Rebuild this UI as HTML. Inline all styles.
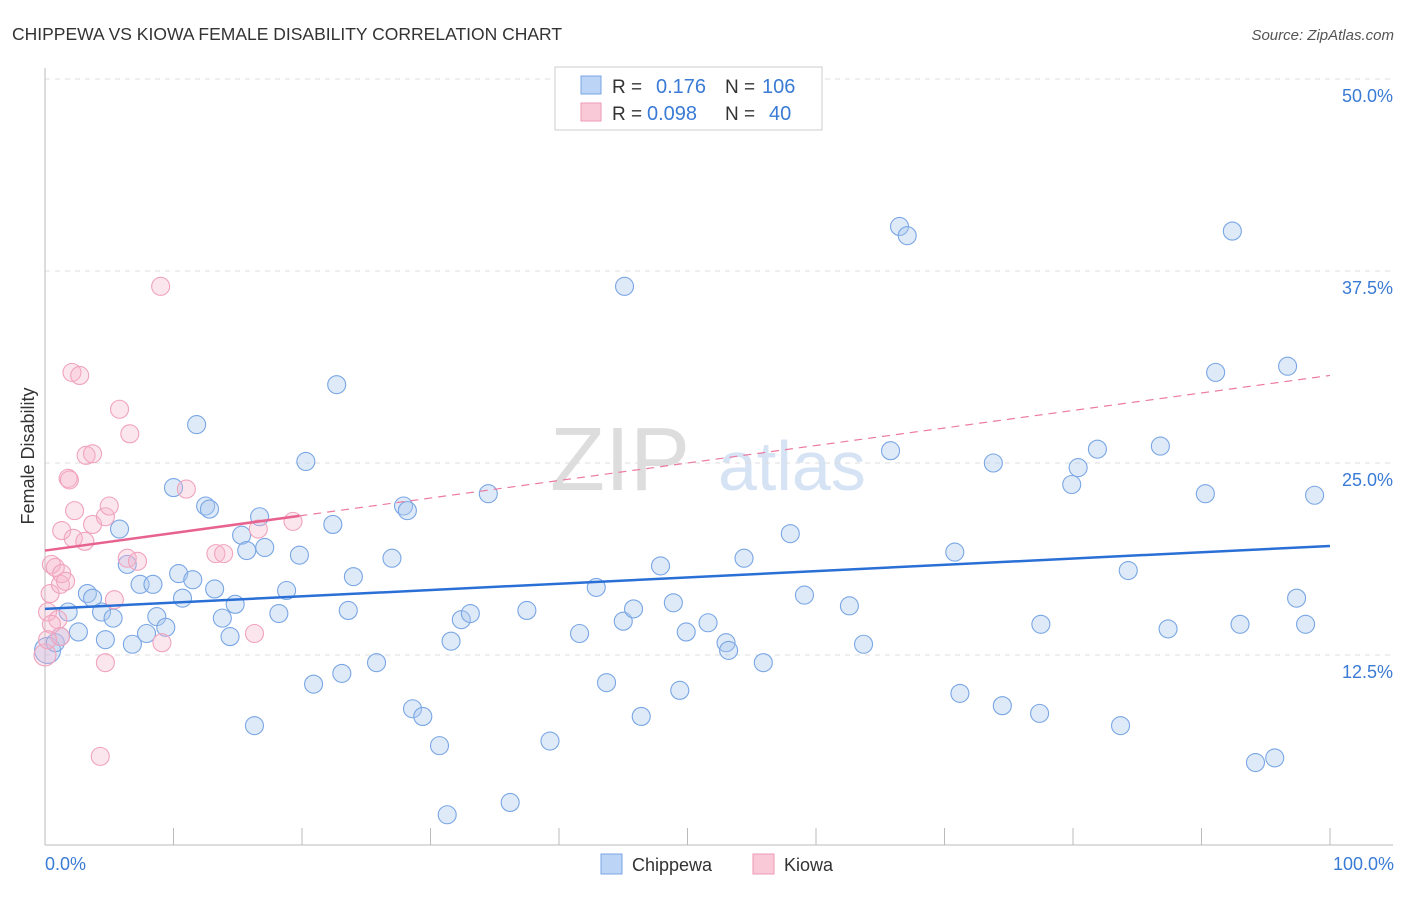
<!DOCTYPE html>
<html><head><meta charset="utf-8"><style>
body{margin:0;background:#fff;font-family:"Liberation Sans",sans-serif}
svg text{font-family:"Liberation Sans",sans-serif}
</style></head><body>
<svg id="chart" width="1406" height="892">
<text x="12" y="40" font-size="17.5" fill="#333">CHIPPEWA VS KIOWA FEMALE DISABILITY CORRELATION CHART</text>
<text x="1394" y="40" font-size="15" fill="#555" text-anchor="end" font-style="italic">Source: ZipAtlas.com</text>
<text x="690" y="490" font-size="90" fill="#ddd" text-anchor="end" font-family="Liberation Serif">ZIP</text>
<text x="718" y="490" font-size="70" fill="#d5e3f5">atlas</text>
<g id="grid"></g>
<g id="axes"></g>
<g id="marks"></g>
<text transform="translate(34,456) rotate(-90)" font-size="18" fill="#333" text-anchor="middle">Female Disability</text>
<text x="45" y="870" font-size="18" fill="#3a7bd5">0.0%</text>
<text x="1394" y="870" font-size="18" fill="#3a7bd5" text-anchor="end">100.0%</text>
<g>
<rect x="555" y="67" width="267" height="63" fill="#fff" stroke="#ccc"/>
<rect x="581" y="76" width="20" height="18" fill="#bcd4f5" stroke="#7aa6e6"/>
<rect x="581" y="103" width="20" height="18" fill="#f9c9d8" stroke="#ee9ab5"/>
<text x="612" y="93" font-size="19" fill="#333">R =</text><text x="656" y="93" font-size="20" fill="#3a7bd5">0.176</text>
<text x="725" y="93" font-size="19" fill="#333">N =</text><text x="762" y="93" font-size="20" fill="#3a7bd5">106</text>
<text x="612" y="120" font-size="19" fill="#333">R =</text><text x="647" y="120" font-size="20" fill="#3a7bd5">0.098</text>
<text x="725" y="120" font-size="19" fill="#333">N =</text><text x="769" y="120" font-size="20" fill="#3a7bd5">40</text>
</g>
<g>
<rect x="601" y="854" width="21" height="20" fill="#bcd4f5" stroke="#7aa6e6"/>
<text x="632" y="871" font-size="18" fill="#333">Chippewa</text>
<rect x="753" y="854" width="21" height="20" fill="#f9c9d8" stroke="#ee9ab5"/>
<text x="784" y="871" font-size="18" fill="#333">Kiowa</text>
</g>
</svg>
<script>
const yTicks=[12.5,25,37.5,50];
const yTickLabels=["12.5%","25.0%","37.5%","50.0%"];
const xTicks=[10,20,30,40,50,60,70,80,90,100];
const chippewaX=[0.2,0.8,1.2,1.8,2.6,3.3,3.7,4.4,4.7,5.3,5.8,6.4,6.8,7.4,7.9,8.4,8.7,9.4,10.0,10.4,10.7,11.5,11.8,12.5,12.8,13.2,13.8,14.4,14.8,15.3,15.7,16.3,16.7,17.1,18.2,18.8,19.8,20.3,20.9,22.4,22.7,23.1,23.6,24.0,25.8,27.0,27.9,28.2,28.6,29.4,30.7,31.3,31.6,32.4,33.1,34.5,36.2,37.5,39.3,41.6,42.9,43.7,45.0,45.1,45.8,46.4,47.9,48.9,49.4,49.9,51.6,53.0,53.2,54.4,55.9,58.0,59.1,62.6,63.7,65.8,66.5,67.1,70.8,71.2,73.8,74.5,77.4,77.5,79.9,80.4,81.9,83.7,84.3,86.8,87.4,90.3,91.1,92.4,93.0,94.2,95.7,96.7,97.4,98.1,98.8];
const chippewaY=[12.8,13.3,13.7,15.3,14.0,16.5,16.2,15.3,13.5,14.9,20.7,18.4,13.2,17.1,13.9,17.1,15.0,14.3,23.4,17.8,16.2,17.4,27.5,22.2,22.0,16.8,14.9,13.7,15.8,20.3,19.3,7.9,21.5,19.5,15.2,16.7,19.0,25.1,10.6,21.0,30.1,11.3,15.4,17.6,12.0,18.8,22.2,21.9,9.0,8.5,6.6,2.1,13.4,14.8,15.2,23.0,2.9,15.4,6.9,13.9,16.9,10.7,14.7,36.5,15.5,8.5,18.3,15.9,10.2,14.0,14.6,13.3,12.8,18.8,12.0,20.4,16.4,15.7,13.2,25.8,40.4,39.8,19.2,10.0,25.0,9.2,8.7,14.5,23.6,24.7,25.9,7.9,18.0,26.1,14.2,23.0,30.9,40.1,14.5,5.5,5.8,31.3,16.2,14.5,22.9];
const kiowaX=[0.0,0.2,0.4,0.5,0.8,1.0,1.2,1.3,1.6,1.2,1.3,1.8,1.9,2.1,2.3,2.2,2.7,3.1,3.2,3.7,3.7,4.3,4.7,4.7,5.0,5.4,5.8,6.6,6.4,7.2,9.0,9.1,11.0,13.3,13.9,16.3,16.6,19.3,0.5,0.2];
const kiowaY=[12.5,15.3,16.5,18.4,18.2,14.8,17.1,17.8,17.3,13.7,20.6,24.0,23.9,30.9,21.9,20.1,30.7,19.9,25.5,25.6,21.0,5.9,21.5,12.0,22.2,16.1,28.5,26.9,18.8,18.6,36.5,13.3,23.3,19.1,19.1,13.9,20.7,21.2,14.5,13.5];
const chippewaTrend=[15.5,19.6];
const kiowaTrend=[19.3,30.7];
const kiowaSolidEnd=19.8;

const NS="http://www.w3.org/2000/svg";
const X=v=>45+v*12.85, Y=v=>847-v*15.36;
function mk(t,a,p){const e=document.createElementNS(NS,t);for(const k in a)e.setAttribute(k,a[k]);p.appendChild(e);return e;}
const grid=document.getElementById('grid'),axes=document.getElementById('axes'),marks=document.getElementById('marks');
yTicks.forEach((v,i)=>{
 const l=mk('line',{x1:45,x2:1393,y1:Y(v),y2:Y(v),stroke:'#ddd','stroke-dasharray':'5,5'},grid);
 
 
 const t=mk('text',{x:1393,y:Y(v)+23,'font-size':18,fill:'#3a7bd5','text-anchor':'end'},grid);
 t.textContent=yTickLabels[i];
 
 
});
let a=mk('line',{x1:45,x2:45,y1:68,y2:845,stroke:'#bbb'},axes);


a=mk('line',{x1:45,x2:1393,y1:845,y2:845,stroke:'#bbb'},axes);


xTicks.forEach(v=>{
 const t=mk('line',{x1:X(v),x2:X(v),y1:828,y2:845,stroke:'#bbb'},axes);
 
 
});
chippewaX.forEach((x,i)=>{
 const c=mk('circle',{cx:X(x),cy:Y(chippewaY[i]),r:i===0?13:9,fill:'rgba(170,200,240,0.38)',stroke:'#79a6e4','stroke-width':1.1},marks);
 
 
});
kiowaX.forEach((x,i)=>{
 const c=mk('circle',{cx:X(x),cy:Y(kiowaY[i]),r:i===0?11:9,fill:'rgba(246,180,204,0.33)',stroke:'#f0a3bc','stroke-width':1.1},marks);
 
 
});
const kAt=x=>kiowaTrend[0]+(kiowaTrend[1]-kiowaTrend[0])*x/100;
let l=mk('line',{x1:X(0),y1:Y(chippewaTrend[0]),x2:X(100),y2:Y(chippewaTrend[1]),stroke:'#2a6fd6','stroke-width':2.5},marks);


l=mk('line',{x1:X(kiowaSolidEnd),y1:Y(kAt(kiowaSolidEnd)),x2:X(100),y2:Y(kiowaTrend[1]),stroke:'#ec7aa0','stroke-width':1.2,'stroke-dasharray':'8,6'},marks);


l=mk('line',{x1:X(0),y1:Y(kiowaTrend[0]),x2:X(kiowaSolidEnd),y2:Y(kAt(kiowaSolidEnd)),stroke:'#e8628f','stroke-width':2.5},marks);


</script>
</body></html>
